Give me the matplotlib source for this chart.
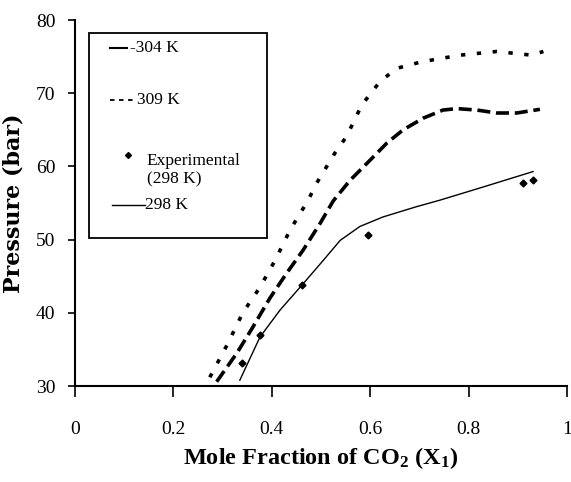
import matplotlib
matplotlib.use("Agg")
import matplotlib.pyplot as plt
from matplotlib.patches import Rectangle

plt.rcParams["mathtext.default"] = "regular"

# 309 K (dotted)
x309 = [0.274, 0.309, 0.341, 0.376, 0.407, 0.437, 0.474, 0.491, 0.528, 0.552,
        0.583, 0.620, 0.654, 0.705, 0.783, 0.857, 0.928, 0.952]
p309 = [31.2, 35.6, 40.0, 43.5, 47.2, 51.3, 55.4, 57.7, 61.8, 64.1,
        68.4, 71.6, 73.4, 74.3, 75.2, 75.7, 75.2, 75.7]

# 304 K (dashed)
x304 = [0.288, 0.329, 0.362, 0.396, 0.430, 0.464, 0.498, 0.525, 0.559, 0.596,
        0.634, 0.667, 0.708, 0.748, 0.776, 0.817, 0.857, 0.898, 0.945]
p304 = [30.6, 34.5, 38.1, 42.0, 45.4, 48.6, 52.2, 55.3, 58.1, 60.6,
        63.2, 65.0, 66.6, 67.7, 67.9, 67.7, 67.3, 67.3, 67.8]

# 298 K (solid model)
x298 = [0.335, 0.376, 0.417, 0.464, 0.505, 0.539, 0.579, 0.626, 0.694, 0.742,
        0.830, 0.931]
p298 = [30.8, 36.7, 40.4, 44.0, 47.2, 49.9, 51.8, 53.1, 54.5, 55.4,
        57.2, 59.3]

# Experimental (298 K)
xexp = [0.339, 0.377, 0.461, 0.596, 0.911, 0.931]
pexp = [33.1, 37.0, 43.8, 50.6, 57.7, 58.2]

xticks = [0, 0.2, 0.4, 0.6, 0.8, 1]
xticklabels = ["0", "0.2", "0.4", "0.6", "0.8", "1"]
yticks = [30, 40, 50, 60, 70, 80]

legend_labels = ["-304 K", "309 K", "Experimental\n(298 K)", "298 K"]

serif = ["Liberation Serif", "DejaVu Serif"]

fig = plt.figure(figsize=(5.71, 4.82), dpi=100)
ax = fig.add_axes([0.1313, 0.199, 0.8617, 0.7595])

ax.plot(x309, p309, color="black", lw=2.6, linestyle=(0, (1.2, 3.2)))
ax.plot(x304, p304, color="black", lw=2.6, linestyle=(0, (3.6, 1.6)))
ax.plot(x298, p298, color="black", lw=1.0, linestyle="-")
ax.plot(xexp, pexp, linestyle="none", marker="D", markersize=3.5,
        color="black")

ax.set_xlim(0, 1)
ax.set_ylim(30, 80)
ax.set_xticks(xticks)
ax.set_xticklabels(xticklabels, fontfamily=serif, fontsize=14)
ax.set_yticks(yticks)
ax.set_yticklabels([str(v) for v in yticks], fontfamily=serif, fontsize=14)
ax.tick_params(axis="x", direction="out", length=8, width=1.2, pad=17)
ax.tick_params(axis="y", direction="out", length=5, width=1.2, pad=9)
for s in ["top", "right"]:
    ax.spines[s].set_visible(False)
for s in ["left", "bottom"]:
    ax.spines[s].set_linewidth(1.5)

ax.set_xlabel("Mole Fraction of CO$_2$ (X$_1$)", fontfamily=serif,
              fontsize=17.5, fontweight="bold", labelpad=5)
ax.set_ylabel("Pressure (bar)", fontfamily=["DejaVu Serif"], fontsize=16,
              fontweight="bold", labelpad=8)

# Legend drawn in axes coordinates
tr = ax.transAxes
ax.add_patch(Rectangle((0.028, 0.404), 0.362, 0.560, transform=tr,
                       fill=False, edgecolor="black", lw=1.3, clip_on=False))
fs = 12.5
# 304 K
ax.plot([0.071, 0.105], [0.923, 0.923], transform=tr, color="black",
        lw=1.5, clip_on=False)
ax.text(0.112, 0.923, legend_labels[0], transform=tr, va="center",
        ha="left", fontfamily=serif, fontsize=fs)
# 309 K
ax.plot([0.071, 0.122], [0.781, 0.781], transform=tr, color="black",
        lw=1.3, linestyle=(0, (2.5, 2.5)), clip_on=False)
ax.text(0.126, 0.781, legend_labels[1], transform=tr, va="center",
        ha="left", fontfamily=serif, fontsize=fs)
# Experimental
ax.plot([0.108], [0.631], transform=tr, marker="D", markersize=3,
        color="black", clip_on=False)
ax.text(0.146, 0.590, legend_labels[2], transform=tr, va="center",
        ha="left", fontfamily=serif, fontsize=fs, linespacing=1.25)
# 298 K
ax.plot([0.075, 0.142], [0.494, 0.494], transform=tr, color="black",
        lw=1.0, clip_on=False)
ax.text(0.142, 0.494, legend_labels[3], transform=tr, va="center",
        ha="left", fontfamily=serif, fontsize=fs)

fig.savefig("out.png", dpi=100)
